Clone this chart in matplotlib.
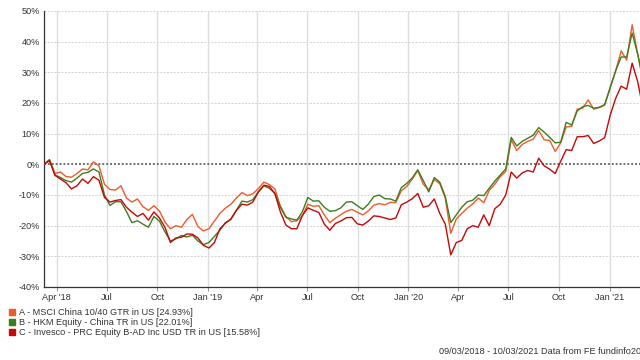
import numpy as np
import pandas as pd
import matplotlib
matplotlib.use("Agg")
import matplotlib.pyplot as plt
from matplotlib.patches import Patch

plt.rcParams['font.family'] = ['Liberation Sans', 'DejaVu Sans']

# cumulative performance (%) sampled every 10 days from 09/03/2018
start = '2018-03-09'
perf_a = [0, 1.5, -3, -2.5, -4, -4.2, -3, -1.5, -1.8, 0.8,
          -0.5, -6.5, -8.2, -8.4, -7, -11, -12.3, -11.3, -13.8, -15,
          -13.5, -15.2, -18.8, -21, -20, -20.5, -18, -16.3, -20.3, -21.7,
          -21, -18.5, -16, -14.3, -13, -11, -9.2, -10.2, -9.6, -7.9,
          -5.8, -6.6, -8, -13.6, -17, -18.7, -18.4, -16.8, -13, -13.7,
          -13.5, -16.5, -19, -17.6, -16.4, -15.3, -14.7, -15.6, -16.5, -15.2,
          -13.3, -12.8, -13.2, -12.4, -12.5, -8.6, -7.2, -4.8, -2, -6.5,
          -8.3, -5, -6.3, -11, -22.5, -17.8, -16, -14.3, -12.9, -11,
          -12.5, -8.5, -6.5, -4, -2.3, 8, 4.5, 6.5, 7.5, 8.2,
          11, 8, 7.8, 4.2, 7, 12.2, 12.4, 18, 18.3, 21,
          18, 18.5, 19.3, 25, 30.5, 37, 34, 45.5, 36, 28]
perf_b = [0, 1.5, -3.5, -4.3, -5.3, -5.8, -4.5, -3, -2.6, -1.5,
          -2.5, -10, -13.4, -12.2, -12.2, -15.4, -19, -18.4, -19.5, -20.5,
          -17, -18.5, -22, -25, -24.3, -23.2, -23.7, -23.1, -25, -26.2,
          -25.5, -23.5, -21.5, -19, -18, -15, -12, -12.3, -11.5, -9,
          -7, -7.8, -9.5, -14, -17.3, -17.8, -18.2, -15.5, -10.8, -12,
          -11.9, -14, -15.3, -15.1, -14.2, -12.3, -12.2, -13.5, -14.7, -13,
          -10.5, -10, -11.2, -11.3, -12, -7.6, -6.2, -4.4, -1.8, -5.3,
          -9, -4.3, -5.8, -10.5, -19, -16.5, -14, -12.2, -11.7, -10,
          -10.2, -7.8, -5.5, -3.5, -1.5, 8.8, 6, 7.5, 8.5, 9.5,
          12, 10.5, 8.8, 7, 7.2, 13.7, 12.8, 17.4, 18.8, 19.2,
          18.3, 18.6, 19.5, 25, 30.5, 35, 35, 42.8, 36, 27]
perf_c = [0, 1.2, -3.6, -4.8, -6, -8, -7, -4.8, -6.2, -4,
          -5.2, -10.8, -12.3, -11.8, -11.5, -14, -15.6, -17, -16, -18.2,
          -15.5, -17.5, -20.5, -25.5, -24, -23.8, -22.7, -22.8, -24, -26.4,
          -27.3, -25.5, -21, -19.2, -17.8, -15, -13, -13.3, -12.3, -9,
          -6.8, -7.2, -9.5, -15.5, -19.8, -21, -21, -16.7, -14.2, -15,
          -15.7, -19.5, -21.5, -19.3, -18.5, -17.4, -17.3, -19.4, -19.8, -18.5,
          -16.8, -17, -17.5, -18, -17.5, -13.2, -12.3, -11.2, -9.5, -14,
          -13.5, -11.3, -16, -19.5, -29.5, -25.5, -24.8, -21, -20, -20.5,
          -16.5, -20, -14.5, -13, -10, -2.5, -4.5, -2.8, -2, -2.5,
          2, -0.5, -1.6, -3, 1, 4.8, 4.5, 9, 9, 9.4,
          6.8, 7.6, 8.7, 16, 21.5, 25.5, 24.5, 33, 27, 18]

names = ['A - MSCI China 10/40 GTR in US [24.93%]',
         'B - HKM Equity - China TR in US [22.01%]',
         'C - Invesco - PRC Equity B-AD Inc USD TR in US [15.58%]']
colors = ['#ee5a2a', '#3d7d1f', '#c40808']

tick_dates = ['2018-04-01', '2018-07-01', '2018-10-01', '2019-01-01',
              '2019-04-01', '2019-07-01', '2019-10-01', '2020-01-01',
              '2020-04-01', '2020-07-01', '2020-10-01', '2021-01-01']
tick_labels = ["Apr '18", 'Jul', 'Oct', "Jan '19", 'Apr', 'Jul', 'Oct',
               "Jan '20", 'Apr', 'Jul', 'Oct', "Jan '21"]
yticks = list(range(-40, 51, 10))

dates = pd.date_range(start, periods=len(perf_a), freq='10D')

fig = plt.figure(figsize=(6.4, 3.6), dpi=100)
# axes runs past the right edge, like the cropped original
ax = fig.add_axes([44 / 640, 73 / 360, 603 / 640, 276 / 360])

for vals, col in zip([perf_a, perf_b, perf_c], colors):
    ax.plot(dates, vals, color=col, lw=1.0, zorder=3)

ax.set_xlim(pd.Timestamp('2018-03-09'), pd.Timestamp('2021-03-10'))
ax.set_ylim(-40, 50)

ax.set_yticks(yticks)
ax.set_yticklabels([f'{v}%' for v in yticks])
ax.set_xticks(pd.to_datetime(tick_dates))
ax.set_xticklabels(tick_labels)
ax.tick_params(axis='y', length=0, pad=3, labelsize=6.6, colors='#333333')
ax.tick_params(axis='x', length=3, width=0.8, color='#999999', pad=1,
               labelsize=6.6, labelcolor='#333333')

for v in yticks:
    if v == 0:
        ax.axhline(0, color='#6e6e6e', lw=1.4, ls=(0, (1, 1)), zorder=2)
    else:
        ax.axhline(v, color='#d2d2d2', lw=0.7, ls=(0, (2, 1.5)), zorder=1)
for d in pd.to_datetime(tick_dates):
    ax.axvline(d, color='#dddddd', lw=1.0, zorder=1)

for side in ['top', 'right']:
    ax.spines[side].set_visible(False)
ax.spines['left'].set_color('#333333')
ax.spines['bottom'].set_color('#333333')
ax.spines['left'].set_linewidth(0.9)
ax.spines['bottom'].set_linewidth(0.9)

handles = [Patch(facecolor=c, edgecolor=c) for c in colors]
fig.legend(handles, names, loc='upper left', bbox_to_anchor=(9 / 640, 1 - 308 / 360),
           frameon=False, fontsize=6.6, handlelength=0.6, handleheight=0.6,
           handletextpad=0.5, labelspacing=0.12, borderpad=0, borderaxespad=0,
           labelcolor='#333333')

fig.text(439 / 640, 8 / 360, '09/03/2018 - 10/03/2021 Data from FE fundinfo2021',
         fontsize=6.6, color='#333333', ha='left', va='center')

fig.savefig('out.png', dpi=100)
